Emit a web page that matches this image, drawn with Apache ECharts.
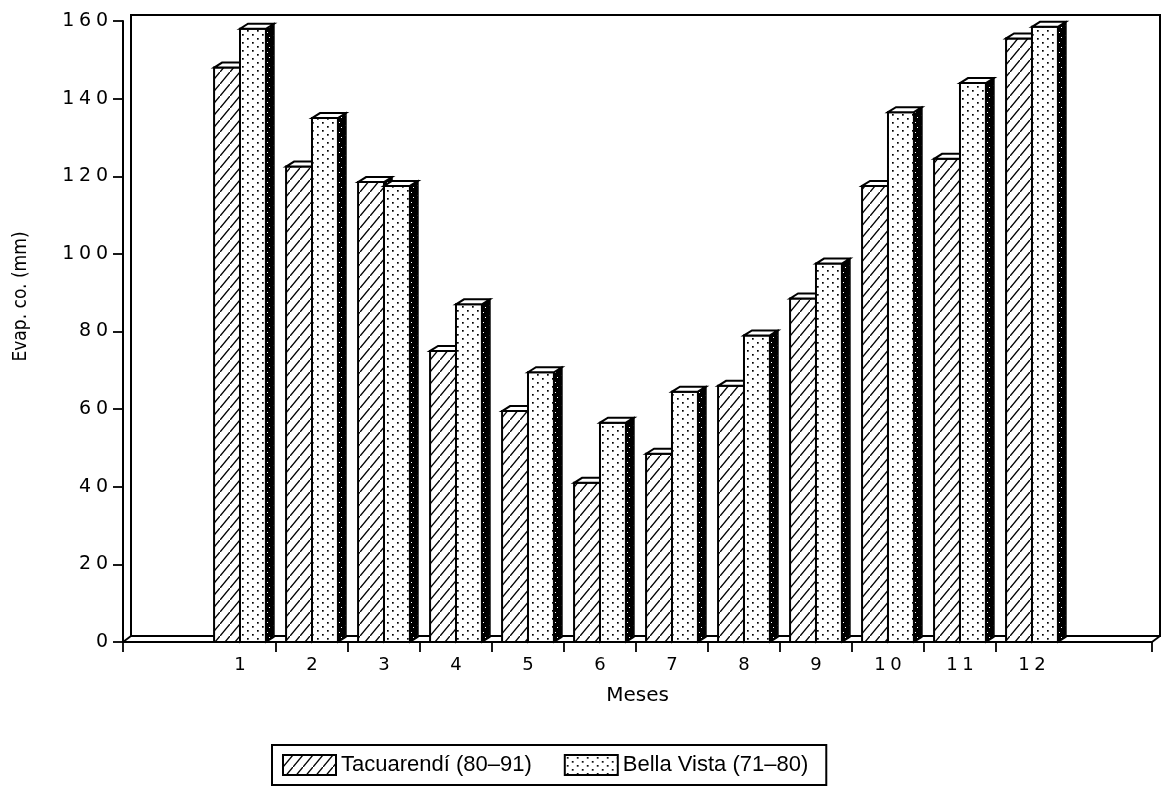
<!DOCTYPE html>
<html><head><meta charset="utf-8">
<script src="https://cdn.jsdelivr.net/npm/echarts@6/dist/echarts.min.js"></script>
<style>html,body{margin:0;padding:0;background:#fff}#c{width:1166px;height:804px}</style>
</head><body><div id="c"></div>
<script>
// ---- data ----
const months = [1, 2, 3, 4, 5, 6, 7, 8, 9, 10, 11, 12];
const tacuarendi = [148, 122.5, 118.5, 75, 59.5, 41, 48.5, 66, 88.5, 117.5, 124.5, 155.5];
const bellaVista = [158, 135, 117.5, 87, 69.5, 56.5, 64.5, 79, 97.5, 136.5, 144, 158.5];
const seriesNames = ['Tacuarend\u00ed (80\u201391)', 'Bella Vista (71\u201380)'];
const yMin = 0, yMax = 160, yStep = 20;
const xMin = -0.625, xMax = 13.667;
const xTickValues = [xMin, 1.5, 2.5, 3.5, 4.5, 5.5, 6.5, 7.5, 8.5, 9.5, 10.5, 11.5, xMax];

// ---- patterns ----
function makeCanvas(w, h, draw) {
  const c = document.createElement('canvas'); c.width = w; c.height = h;
  const g = c.getContext('2d'); draw(g); return c;
}
const hatch = makeCanvas(10, 12, g => {
  g.fillStyle = '#fff'; g.fillRect(0, 0, 10, 12);
  g.strokeStyle = '#000'; g.lineWidth = 1.4;
  g.beginPath(); g.moveTo(-1, 13.2); g.lineTo(11, -1.2); g.stroke();
});
const dots = makeCanvas(10, 8, g => {
  g.fillStyle = '#fff'; g.fillRect(0, 0, 10, 8);
  g.fillStyle = '#000'; g.fillRect(2, 2, 1.7, 1.7); g.fillRect(7, 6, 1.7, 1.7);
});
const speck = makeCanvas(8, 10, g => {
  g.fillStyle = '#000'; g.fillRect(0, 0, 8, 10);
  g.fillStyle = '#fff'; g.fillRect(3, 2, 1, 1); g.fillRect(5, 7, 1, 1); g.fillRect(1, 5, 1, 1);
});
const hatchFill = { image: hatch, repeat: 'repeat' };
const dotFill = { image: dots, repeat: 'repeat' };
const speckFill = { image: speck, repeat: 'repeat' };

const DX = 8, DY = 5;
function makeRender(side, fill) {
  return function (params, api) {
    const x = api.value(0), v = api.value(1);
    const top = api.coord([x, v]);
    const base = api.coord([x, 0]);
    const w = api.size([1, 0])[0] * 0.36;
    const x0 = side < 0 ? top[0] - w : top[0];
    const x1 = x0 + w;
    const yT = top[1], yB = base[1];
    return {
      type: 'group',
      children: [
        { type: 'polygon', shape: { points: [[x1, yT], [x1 + DX, yT - DY], [x1 + DX, yB - DY], [x1, yB]] },
          style: { fill: speckFill, stroke: '#000', lineWidth: 1.6 } },
        { type: 'rect', shape: { x: x0, y: yT, width: w, height: yB - yT },
          style: { fill: fill, stroke: '#000', lineWidth: 2 } },
        { type: 'polygon', shape: { points: [[x0, yT], [x0 + DX, yT - DY], [x1 + DX, yT - DY], [x1, yT]] },
          style: { fill: '#fff', stroke: '#000', lineWidth: 2 } }
      ]
    };
  };
}

const spaced = s => String(s).split('').join('\u2005');
const tickFont = 'DejaVu Sans, sans-serif';

const chart = echarts.init(document.getElementById('c'), null, { renderer: 'canvas' });
chart.setOption({
  animation: false,
  backgroundColor: '#fff',
  grid: [
    { left: 123, right: 14, top: 21, bottom: 162, show: false },
    { left: 131, right: 6, top: 15, bottom: 168, show: true, borderColor: '#000', borderWidth: 2, backgroundColor: 'transparent', z: 0 }
  ],
  xAxis: [
    { type: 'value', gridIndex: 0, min: xMin, max: xMax,
      name: 'Meses', nameLocation: 'middle', nameGap: 44,
      nameTextStyle: { fontSize: 20, color: '#000', fontFamily: 'DejaVu Sans, sans-serif' },
      axisLine: { show: true, onZero: false, lineStyle: { color: '#000', width: 2 } },
      axisTick: { show: true, length: 10, customValues: xTickValues, lineStyle: { color: '#000', width: 1.8 } },
      axisLabel: { show: true, customValues: months, margin: 14, color: '#000', fontSize: 18, fontFamily: tickFont,
        formatter: v => spaced(v) },
      splitLine: { show: false } },
    { type: 'value', gridIndex: 1, show: false, min: 0, max: 1 }
  ],
  yAxis: [
    { type: 'value', gridIndex: 0, min: yMin, max: yMax, interval: yStep,
      name: 'Evap. co. (mm)', nameLocation: 'middle', nameGap: 92, nameRotate: 90,
      nameTextStyle: { fontSize: 19, color: '#000', fontFamily: "'Liberation Sans Narrow', 'DejaVu Sans Condensed', 'Liberation Sans', sans-serif", padding: [0, 0, 0, 70] },
      axisLine: { show: true, onZero: false, lineStyle: { color: '#000', width: 2 } },
      axisTick: { show: true, length: 10, lineStyle: { color: '#000', width: 1.8 } },
      axisLabel: { margin: 15, color: '#000', fontSize: 19, fontFamily: tickFont, formatter: v => spaced(v) },
      splitLine: { show: false } },
    { type: 'value', gridIndex: 1, show: false, min: 0, max: 1 }
  ],
  legend: {
    left: 272, top: 745, orient: 'horizontal',
    padding: [9, 18, 9, 10], itemGap: 32, itemWidth: 53, itemHeight: 20,
    borderColor: '#000', borderWidth: 2,
    icon: 'rect',
    textStyle: { fontSize: 22, color: '#000', fontFamily: 'Liberation Sans, sans-serif' },
    data: seriesNames
  },
  graphic: [
    { type: 'line', shape: { x1: 123, y1: 642, x2: 131, y2: 636 }, style: { stroke: '#000', lineWidth: 1.8 } },
    { type: 'line', shape: { x1: 1152, y1: 642, x2: 1160, y2: 636 }, style: { stroke: '#000', lineWidth: 1.8 } }
  ],
  series: [
    { name: seriesNames[0], type: 'custom', xAxisIndex: 0, yAxisIndex: 0,
      itemStyle: { color: hatchFill, borderColor: '#000', borderWidth: 1.5 },
      renderItem: makeRender(-1, hatchFill),
      encode: { x: 0, y: 1 },
      data: months.map((m, i) => [m, tacuarendi[i]]) },
    { name: seriesNames[1], type: 'custom', xAxisIndex: 0, yAxisIndex: 0,
      itemStyle: { color: dotFill, borderColor: '#000', borderWidth: 1.5 },
      renderItem: makeRender(1, dotFill),
      encode: { x: 0, y: 1 },
      data: months.map((m, i) => [m, bellaVista[i]]) }
  ]
});
</script>
</body></html>
